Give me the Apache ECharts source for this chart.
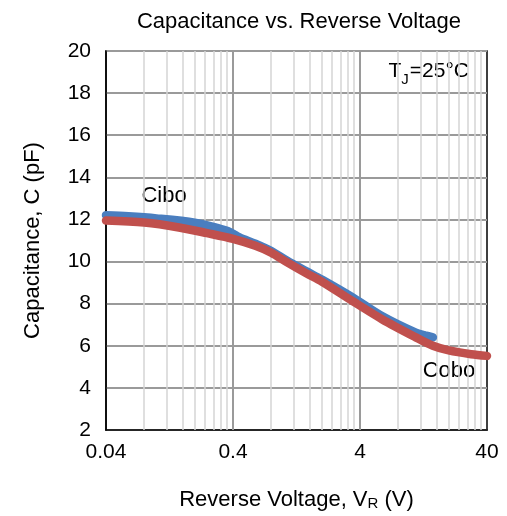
<!DOCTYPE html>
<html>
<head>
<meta charset="utf-8">
<script src="https://cdn.jsdelivr.net/npm/echarts@6/dist/echarts.min.js"></script>
<style>
  html, body { margin: 0; padding: 0; background: #fff; }
  #chart { width: 507px; height: 516px; }
</style>
</head>
<body>
<div id="chart"></div>
<script>
  // tick values
  const xTicks = [0.04, 0.4, 4, 40];
  const xMajorGrid = [0.4, 4];
  const xMinorGrid = [0.08, 0.12, 0.16, 0.2, 0.24, 0.28, 0.32, 0.36,
    0.8, 1.2, 1.6, 2, 2.4, 2.8, 3.2, 3.6,
    8, 12, 16, 20, 24, 28, 32, 36];

  // Cibo (blue)
  const ciboV = [0.04, 0.06, 0.1, 0.2, 0.3, 0.38, 0.45, 0.6, 0.8, 1.06, 1.5, 2, 3.5, 6, 11, 13, 15];
  const ciboC = [12.2, 12.15, 12.05, 11.85, 11.6, 11.4, 11.15, 10.85, 10.5, 10.05, 9.55, 9.15, 8.3, 7.4, 6.62, 6.5, 6.4];

  // Cobo (red)
  const coboV = [0.04, 0.08, 0.15, 0.25, 0.4, 0.6, 0.8, 1.06, 1.5, 2, 3.5, 6, 11, 15, 20, 30, 40];
  const coboC = [11.95, 11.85, 11.62, 11.35, 11.08, 10.75, 10.42, 9.97, 9.45, 9.05, 8.12, 7.25, 6.4, 6.0, 5.78, 5.6, 5.52];

  const FONT = "'Liberation Sans', Arial, sans-serif";

  const zip = (xs, ys) => xs.map((x, i) => [x, ys[i]]);

  const chart = echarts.init(document.getElementById('chart'));

  chart.setOption({
    animation: false,
    grid: {
      left: 106,
      right: 20,
      top: 51,
      bottom: 85,
      show: true,
      borderColor: '#000',
      borderWidth: 1.5,
    },
    xAxis: {
      type: 'log',
      logBase: 10,
      min: 0.04,
      max: 40,
      name: '{a|Reverse Voltage, V}{b|R}{a| (V)}',
      nameLocation: 'middle',
      nameGap: 58,
      nameTextStyle: {
        rich: {
          a: { fontFamily: FONT, fontSize: 22, color: '#000' },
          b: { fontFamily: FONT, fontSize: 15, color: '#000', verticalAlign: 'bottom', padding: [8, 0, 0, 0] },
        },
      },
      axisLine: { show: true, lineStyle: { color: '#000', width: 1.5 } },
      axisTick: { show: false },
      axisLabel: {
        customValues: xTicks,
        formatter: (v) => String(+(+v).toPrecision(3)),
        fontFamily: FONT,
        fontSize: 21,
        color: '#000',
        margin: 12,
      },
      splitLine: { show: false },
      minorSplitLine: { show: false },
    },
    yAxis: {
      type: 'value',
      min: 2,
      max: 20,
      interval: 2,
      name: 'Capacitance, C (pF)',
      nameLocation: 'middle',
      nameGap: 62,
      nameRotate: 90,
      nameTextStyle: { fontFamily: FONT, fontSize: 22, color: '#000' },
      axisLine: { show: true, lineStyle: { color: '#000', width: 1.5 } },
      axisTick: { show: false },
      axisLabel: { fontFamily: FONT, fontSize: 21, color: '#000', margin: 15 },
      splitLine: { show: true, lineStyle: { color: '#9a9a9a', width: 2 } },
    },
    graphic: [
      {
        type: 'text',
        x: 299,
        y: 22,
        style: {
          text: 'Capacitance vs. Reverse Voltage',
          font: '22px ' + FONT,
          fill: '#000',
          textAlign: 'center',
          textVerticalAlign: 'middle',
        },
      },
      {
        type: 'text',
        x: 469,
        y: 74,
        style: {
          text: '{a|T}{b|J}{a|=25°C}',
          textAlign: 'right',
          textVerticalAlign: 'middle',
          rich: {
            a: { fontFamily: FONT, fontSize: 21, fill: '#000', lineHeight: 26, verticalAlign: 'top' },
            b: { fontFamily: FONT, fontSize: 15, fill: '#000', lineHeight: 15, verticalAlign: 'bottom', padding: [0, 1, 0, 0] },
          },
        },
      },
      {
        type: 'text',
        x: 164,
        y: 196,
        style: { text: 'Cibo', font: '22px ' + FONT, fill: '#000', textAlign: 'center', textVerticalAlign: 'middle' },
      },
      {
        type: 'text',
        x: 449,
        y: 371,
        style: { text: 'Cobo', font: '22px ' + FONT, fill: '#000', textAlign: 'center', textVerticalAlign: 'middle' },
      },
    ],
    series: [
      {
        name: 'grid',
        type: 'line',
        data: [],
        z: 1,
        silent: true,
        markLine: {
          silent: true,
          z: 1,
          symbol: 'none',
          label: { show: false },
          animation: false,
          data: xMinorGrid.map((v) => ({ xAxis: v, lineStyle: { color: '#d4d4d4', width: 1.5, type: 'solid' } }))
            .concat(xMajorGrid.map((v) => ({ xAxis: v, lineStyle: { color: '#9a9a9a', width: 2, type: 'solid' } }))),
        },
      },
      {
        name: 'Cibo',
        type: 'line',
        data: zip(ciboV, ciboC),
        z: 6,
        smooth: 0.3,
        showSymbol: false,
        lineStyle: { color: '#4a7ebf', width: 8.5, cap: 'round' },
      },
      {
        name: 'Cobo',
        type: 'line',
        data: zip(coboV, coboC),
        z: 7,
        smooth: 0.3,
        showSymbol: false,
        lineStyle: { color: '#c0504d', width: 8.5, cap: 'round' },
      },
    ],
  });
</script>
</body>
</html>
